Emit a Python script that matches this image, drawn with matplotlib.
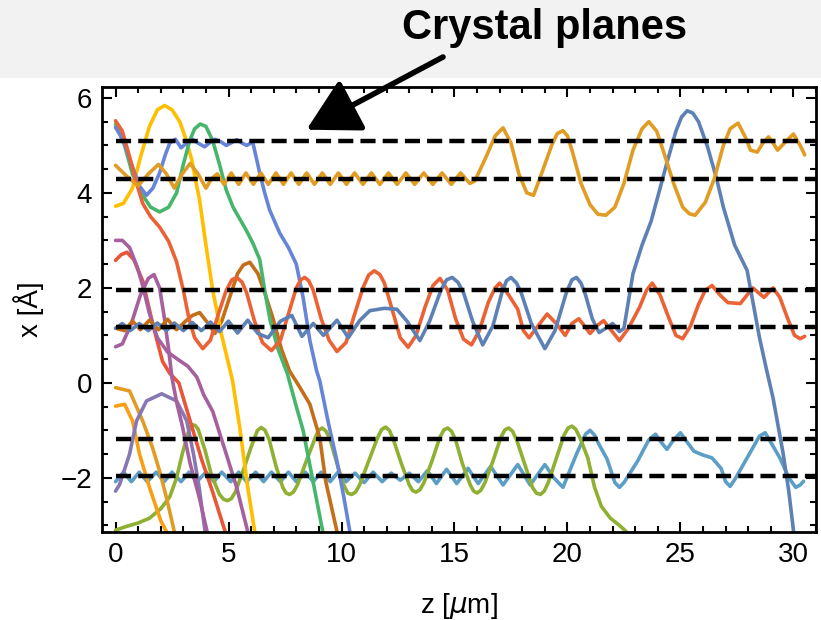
import matplotlib
matplotlib.use("Agg")
import matplotlib.pyplot as plt
from matplotlib.patches import Rectangle
from matplotlib.ticker import MultipleLocator

plt.rcParams['font.family'] = ['Liberation Sans', 'DejaVu Sans']

# crystal plane positions [Angstrom]
planes = [5.1, 4.3, 1.96, 1.18, -1.18, -1.97]

# trajectories as (z [um], x [Angstrom])
red_main = [(0.0, 5.52), (0.3, 5.3), (0.62, 4.76), (0.9, 4.25), (1.2, 3.78), (1.55, 3.5),
            (1.95, 3.28), (2.35, 2.98), (2.7, 2.55), (3.0, 1.95), (3.25, 1.35), (3.5, 0.95),
            (3.86, 0.72), (4.2, 0.9), (4.55, 1.45), (4.9, 1.95), (5.15, 2.17), (5.36, 2.22),
            (5.6, 2.12), (5.8, 1.9), (6.15, 1.3), (6.5, 0.85), (6.9, 0.68), (7.3, 0.9),
            (7.65, 1.45), (8.0, 2.0), (8.2, 2.17), (8.37, 2.22), (8.55, 2.15), (8.75, 1.95),
            (9.1, 1.35), (9.45, 0.9), (9.8, 0.66), (10.2, 0.85), (10.55, 1.4), (10.95, 2.0),
            (11.2, 2.27), (11.45, 2.36), (11.7, 2.28), (11.9, 2.1), (12.3, 1.45), (12.6, 0.95),
            (12.95, 0.75), (13.3, 1.0), (13.7, 1.6), (14.05, 2.05), (14.36, 2.2), (14.7, 1.95),
            (15.05, 1.35), (15.4, 0.92), (15.75, 0.8), (16.1, 1.1), (16.5, 1.7), (16.8, 2.0),
            (17.0, 2.1), (17.4, 1.85), (17.8, 1.55), (18.05, 1.1), (18.3, 0.95), (18.7, 1.2),
            (19.1, 1.45), (19.5, 1.25), (19.9, 1.0), (20.2, 1.25), (20.5, 1.35), (20.75, 1.2),
            (21.0, 1.04), (21.3, 1.2), (21.6, 1.31), (21.95, 1.1), (22.3, 0.89), (22.7, 1.15),
            (23.2, 1.6), (23.5, 1.95), (23.75, 2.1), (24.1, 1.85), (24.5, 1.35), (24.8, 1.0),
            (25.1, 0.93), (25.45, 1.2), (25.8, 1.65), (26.1, 1.95), (26.4, 2.05), (26.75, 1.85),
            (27.1, 1.69), (27.65, 1.67), (27.95, 1.85), (28.2, 2.0), (28.45, 1.9), (28.7, 1.8),
            (28.9, 1.9), (29.1, 2.0), (29.4, 1.8), (29.75, 1.35), (30.05, 1.0), (30.3, 0.93),
            (30.5, 0.98)]

blue_main = [(0.0, 1.15), (0.3, 1.25), (0.65, 1.1), (1.05, 1.25), (1.45, 1.1), (1.85, 1.26),
             (2.25, 1.1), (2.6, 1.26), (3.0, 1.1), (3.4, 1.27), (3.8, 1.1), (4.2, 1.28),
             (4.6, 1.08), (5.0, 1.3), (5.4, 1.05), (5.85, 1.32), (6.3, 1.04), (6.75, 0.95),
             (7.3, 1.3), (7.8, 1.42), (8.25, 0.98), (8.75, 1.25), (9.2, 1.0), (9.8, 1.32),
             (10.3, 0.95), (10.8, 1.31), (11.25, 1.52), (11.9, 1.57), (12.45, 1.55), (12.9, 1.3),
             (13.47, 0.89), (13.9, 1.3), (14.4, 1.95), (14.65, 2.17), (14.9, 2.22), (15.15, 2.12),
             (15.4, 1.9), (15.8, 1.3), (16.25, 0.8), (16.7, 1.2), (17.1, 1.9), (17.3, 2.15),
             (17.5, 2.22), (17.75, 2.1), (17.95, 1.9), (18.4, 1.25), (19.0, 0.72), (19.45, 1.1),
             (19.95, 1.9), (20.2, 2.17), (20.4, 2.22), (20.6, 2.1), (20.8, 1.85), (21.1, 1.35),
             (21.4, 1.06), (21.7, 1.15), (22.0, 1.25), (22.3, 1.08), (22.5, 1.15), (22.9, 2.3),
             (23.3, 2.9), (23.7, 3.4), (24.1, 4.1), (24.4, 4.63), (24.8, 5.3), (25.05, 5.6),
             (25.3, 5.73), (25.55, 5.68), (25.8, 5.5), (26.2, 4.97), (26.6, 4.3), (26.9, 3.7),
             (27.4, 2.9), (27.95, 2.37), (28.5, 0.95), (28.8, 0.3), (29.1, -0.32), (29.55, -1.5),
             (29.8, -2.3), (30.0, -3.1), (30.05, -3.3)]

orange_main = [(0.0, 4.58), (0.5, 4.35), (1.0, 4.15), (1.45, 4.4), (1.9, 4.6), (2.25, 4.4),
               (2.6, 4.1), (2.95, 4.4), (3.3, 4.62), (3.65, 4.4), (4.0, 4.1), (4.25, 4.3),
               (4.5, 4.4), (4.8, 4.18), (5.12, 4.42), (5.45, 4.18), (5.77, 4.42), (6.1, 4.18),
               (6.43, 4.42), (6.76, 4.18), (7.1, 4.42), (7.43, 4.18), (7.77, 4.42), (8.11, 4.18),
               (8.46, 4.42), (8.8, 4.18), (9.15, 4.42), (9.5, 4.18), (9.86, 4.42), (10.22, 4.18),
               (10.58, 4.42), (10.95, 4.18), (11.32, 4.42), (11.7, 4.18), (12.08, 4.42),
               (12.46, 4.18), (12.85, 4.42), (13.24, 4.18), (13.64, 4.42), (14.04, 4.18),
               (14.45, 4.42), (14.86, 4.18), (15.27, 4.42), (15.68, 4.2), (15.9, 4.25),
               (16.4, 4.76), (16.8, 5.2), (17.15, 5.37), (17.5, 5.05), (17.85, 4.4), (18.2, 4.0),
               (18.5, 3.95), (18.85, 4.4), (19.3, 5.0), (19.55, 5.25), (19.8, 5.31), (20.0, 5.2),
               (20.2, 4.9), (20.6, 4.2), (21.0, 3.75), (21.35, 3.55), (21.7, 3.53), (22.1, 3.7),
               (22.5, 4.2), (22.9, 4.9), (23.3, 5.35), (23.6, 5.5), (23.95, 5.3), (24.3, 4.8),
               (24.7, 4.2), (25.1, 3.7), (25.4, 3.56), (25.65, 3.53), (26.1, 3.8), (26.5, 4.3),
               (26.9, 5.0), (27.2, 5.35), (27.55, 5.47), (27.9, 5.15), (28.1, 4.9), (28.4, 4.86),
               (28.65, 5.05), (28.9, 5.18), (29.1, 5.05), (29.3, 4.9), (29.6, 5.05), (30.0, 5.24),
               (30.3, 5.0), (30.5, 4.8)]

blue_top = [(0.0, 5.38), (0.35, 5.1), (0.75, 4.55), (1.05, 4.15), (1.37, 3.95), (1.65, 4.1),
            (1.95, 4.42), (2.2, 4.8), (2.4, 5.05), (2.65, 5.13), (2.9, 4.95), (3.15, 5.05),
            (3.4, 5.13), (3.65, 5.05), (3.94, 4.97), (4.15, 5.05), (4.4, 5.13), (4.65, 5.08),
            (4.9, 5.0), (5.1, 5.05), (5.36, 5.12), (5.6, 5.05), (5.8, 5.0), (6.07, 5.07),
            (6.2, 4.8), (6.38, 4.42), (6.6, 4.0), (6.82, 3.64), (7.27, 3.15), (7.65, 2.85),
            (8.0, 2.5), (8.3, 1.8), (8.6, 0.89), (8.9, 0.25), (9.04, 0.04), (9.4, -0.8),
            (9.8, -1.65), (10.1, -2.4), (10.37, -3.13), (10.45, -3.3)]

green_top = [(0.0, 5.45), (0.4, 5.0), (0.75, 4.4), (1.2, 3.95), (1.55, 3.7), (1.95, 3.6),
             (2.35, 3.7), (2.7, 4.0), (3.0, 4.6), (3.28, 5.1), (3.5, 5.35), (3.75, 5.45),
             (4.0, 5.4), (4.3, 5.1), (4.6, 4.6), (4.9, 4.06), (5.2, 3.7), (5.5, 3.45),
             (5.8, 3.2), (6.07, 2.95), (6.38, 2.6), (6.6, 1.95), (6.85, 1.3), (7.2, 0.7),
             (7.6, 0.2), (8.0, -0.5), (8.3, -1.0), (8.73, -2.05), (9.17, -3.13), (9.25, -3.3)]

yellow = [(0.0, 3.72), (0.35, 3.78), (0.75, 4.1), (1.1, 4.75), (1.5, 5.4), (1.85, 5.75),
          (2.17, 5.84), (2.5, 5.75), (2.84, 5.5), (3.1, 5.15), (3.37, 4.7), (3.55, 4.25),
          (3.72, 3.85), (4.0, 2.9), (4.3, 1.95), (4.7, 1.0), (5.18, 0.04), (5.5, -0.95),
          (5.85, -2.2), (6.16, -3.13), (6.2, -3.3)]

brown = [(0.0, 1.15), (0.4, 1.1), (0.75, 1.3), (1.1, 1.12), (1.5, 1.32), (1.9, 1.12),
         (2.3, 1.34), (2.7, 1.12), (3.1, 1.3), (3.4, 1.42), (3.72, 1.48), (4.1, 1.25),
         (4.4, 1.04), (4.7, 1.3), (5.05, 1.8), (5.4, 2.3), (5.65, 2.48), (5.94, 2.54),
         (6.3, 2.3), (6.6, 1.9), (6.96, 1.37), (7.35, 0.7), (7.7, 0.25), (8.1, -0.05),
         (8.6, -0.45), (9.04, -1.16), (9.3, -2.07), (9.8, -3.13), (9.85, -3.3)]

magenta_a = [(0.0, 0.76), (0.3, 0.82), (0.7, 1.25), (1.1, 1.85), (1.45, 2.2), (1.7, 2.28),
             (1.95, 2.0), (2.15, 1.4), (2.35, 0.7), (2.5, 0.1), (2.7, -0.4), (2.95, -0.9),
             (3.3, -1.7), (3.7, -2.4), (4.05, -3.13), (4.1, -3.3)]

magenta_b = [(0.0, 3.0), (0.3, 3.0), (0.62, 2.85), (0.95, 2.45), (1.2, 2.05), (1.5, 1.46),
             (1.85, 0.95), (2.3, 0.65), (2.8, 0.48), (3.2, 0.35), (3.6, 0.12), (3.9, -0.25),
             (4.3, -0.6), (4.9, -1.5), (5.36, -2.2), (5.85, -3.13), (5.9, -3.3)]

red_c = [(0.0, 2.58), (0.25, 2.7), (0.5, 2.75), (0.8, 2.6), (1.2, 2.15), (1.64, 1.25),
         (2.08, 0.45), (2.4, 0.2), (2.8, 0.0), (3.3, -0.8), (3.8, -1.6), (4.3, -2.3),
         (4.85, -3.13), (4.9, -3.3)]

lavender = [(0.0, -2.28), (0.18, -2.14), (0.62, -1.5), (0.93, -0.8), (1.37, -0.38), (2.04, -0.23),
            (2.7, -0.38), (3.15, -0.8), (3.45, -1.5), (3.7, -2.2), (3.96, -3.13), (4.0, -3.3)]

orange_up = [(0.0, -0.1), (0.62, -0.17), (1.2, -0.8), (1.64, -1.37), (1.95, -1.86), (2.26, -2.43),
             (2.6, -3.13), (2.65, -3.3)]

orange_low = [(0.0, -0.49), (0.4, -0.45), (0.75, -0.8), (1.06, -1.5), (1.5, -2.2), (2.0, -2.9),
              (2.25, -3.13), (2.3, -3.3)]

yellowgreen = [(0.0, -3.1), (0.5, -3.02), (1.0, -2.95), (1.5, -2.85), (2.0, -2.65), (2.4, -2.4),
               (2.7, -2.0), (2.95, -1.5), (3.15, -1.15), (3.27, -0.96), (3.4, -0.88), (3.53, -0.9),
               (3.65, -0.97), (3.95, -1.4), (4.25, -1.95), (4.6, -2.35), (4.78, -2.45), (4.95, -2.48),
               (5.12, -2.44), (5.3, -2.3), (5.65, -1.85), (6.0, -1.35), (6.28, -1.0), (6.45, -0.94),
               (6.62, -1.0), (6.8, -1.2), (7.1, -1.75), (7.4, -2.2), (7.55, -2.32), (7.7, -2.35),
               (7.87, -2.3), (8.05, -2.15), (8.4, -1.7), (8.8, -1.2), (8.98, -1.0), (9.15, -0.95),
               (9.32, -1.02), (9.5, -1.2), (9.8, -1.7), (10.1, -2.15), (10.28, -2.32), (10.45, -2.35),
               (10.62, -2.3), (10.8, -2.15), (11.2, -1.65), (11.6, -1.15), (11.78, -0.98),
               (11.95, -0.93), (12.12, -1.0), (12.3, -1.2), (12.65, -1.7), (13.0, -2.15),
               (13.15, -2.27), (13.3, -2.3), (13.47, -2.25), (13.65, -2.1), (14.0, -1.65),
               (14.35, -1.15), (14.53, -0.99), (14.7, -0.95), (14.87, -1.02), (15.05, -1.2),
               (15.35, -1.7), (15.7, -2.15), (15.85, -2.28), (16.0, -2.32), (16.17, -2.26),
               (16.35, -2.1), (16.7, -1.65), (17.05, -1.15), (17.23, -0.99), (17.4, -0.95),
               (17.57, -1.02), (17.75, -1.2), (18.1, -1.7), (18.45, -2.2), (18.62, -2.32),
               (18.8, -2.35), (18.97, -2.28), (19.15, -2.1), (19.5, -1.6), (19.85, -1.1),
               (20.03, -0.95), (20.2, -0.91), (20.37, -0.98), (20.55, -1.15), (20.9, -1.58),
               (21.2, -2.2), (21.5, -2.6), (21.9, -2.85), (22.3, -3.0), (22.6, -3.13), (22.8, -3.3)]

lightblue = [(0.0, -2.08), (0.35, -1.88), (0.7, -2.08), (1.05, -1.88), (1.4, -2.08), (1.8, -1.88),
             (2.15, -2.08), (2.5, -1.88), (2.9, -2.08), (3.25, -1.88), (3.6, -2.08), (4.0, -1.88),
             (4.35, -2.08), (4.7, -1.88), (5.1, -2.08), (5.45, -1.88), (5.8, -2.08), (6.2, -1.88),
             (6.55, -2.08), (6.9, -1.88), (7.3, -2.08), (7.65, -1.88), (8.0, -2.08), (8.4, -1.88),
             (8.75, -2.08), (9.1, -1.88), (9.5, -2.08), (9.85, -1.88), (10.2, -2.08), (10.6, -1.9),
             (11.0, -2.1), (11.4, -1.88), (11.8, -2.08), (12.2, -1.9), (12.6, -2.05), (13.0, -1.9),
             (13.4, -2.08), (13.8, -1.85), (14.2, -2.12), (14.65, -1.82), (15.1, -2.12),
             (15.6, -1.8), (16.05, -2.12), (16.6, -1.76), (17.15, -2.15), (17.8, -1.72),
             (18.35, -2.15), (19.0, -1.72), (19.4, -2.0), (19.8, -2.2), (20.4, -1.5), (20.8, -1.08),
             (21.0, -1.0), (21.2, -1.1), (21.4, -1.3), (21.75, -1.6), (22.1, -2.1), (22.3, -2.2),
             (22.5, -2.1), (22.7, -1.95), (23.1, -1.65), (23.6, -1.2), (23.9, -1.08), (24.15, -1.25),
             (24.4, -1.4), (24.7, -1.2), (25.0, -1.05), (25.3, -1.25), (25.6, -1.44), (26.0, -1.52),
             (26.4, -1.58), (26.8, -1.8), (27.0, -2.08), (27.2, -2.18), (27.45, -2.0), (27.95, -1.58),
             (28.5, -1.12), (28.75, -1.05), (29.0, -1.25), (29.4, -1.58), (29.8, -2.0), (30.1, -2.2),
             (30.3, -2.15), (30.45, -2.07)]

trajectories = [
    (lightblue, '#5D9EC7'),
    (yellowgreen, '#8FB032'),
    (orange_low, '#F89F13'),
    (orange_up, '#E19C24'),
    (lavender, '#8778B3'),
    (red_c, '#E95536'),
    (magenta_a, '#A5609D'),
    (magenta_b, '#A5609D'),
    (brown, '#C56E1A'),
    (yellow, '#FFBF00'),
    (green_top, '#47B66D'),
    (blue_top, '#6685D9'),
    (red_main, '#EB6235'),
    (blue_main, '#5E81B5'),
    (orange_main, '#E19C24'),
]

fig = plt.figure(figsize=(8.21, 6.2), dpi=100)
fig.patches.append(Rectangle((0, 1 - 78 / 620), 1, 78 / 620, transform=fig.transFigure,
                             facecolor='#f2f2f2', edgecolor='none', zorder=-10))
ax = fig.add_axes([102 / 821, 1 - 532 / 620, 714 / 821, 445 / 620])

for pts, col in trajectories:
    z = [p[0] for p in pts]
    x = [p[1] for p in pts]
    ax.plot(z, x, color=col, lw=2.6, solid_joinstyle='round', solid_capstyle='round')

for p in planes:
    ax.plot([0, 31.0], [p, p], color='black', lw=3.2, linestyle=(0, (3.4, 1.6)), zorder=5)

ax.set_xlim(-0.6, 31.0)
ax.set_ylim(-3.14, 6.23)
ax.xaxis.set_major_locator(MultipleLocator(5))
ax.xaxis.set_minor_locator(MultipleLocator(1))
ax.yaxis.set_major_locator(MultipleLocator(2))
ax.yaxis.set_minor_locator(MultipleLocator(0.5))
ax.tick_params(which='both', direction='in', top=True, right=True, width=1.5, labelsize=20)
ax.tick_params(which='major', length=7, pad=7)
ax.tick_params(which='minor', length=4)
for s in ax.spines.values():
    s.set_linewidth(2)

ax.set_xlabel(r'z [$\mu$m]', fontsize=20, labelpad=17)
ax.set_ylabel('x [Å]', fontsize=20, labelpad=12)

fig.text(545 / 821, 1 - 28 / 620, 'Crystal planes', fontsize=30, fontweight='bold',
         ha='center', va='center')
ax.annotate('', xy=(8.45, 5.33), xycoords='data',
            xytext=(443 / 821, 1 - 57 / 620), textcoords='figure fraction',
            arrowprops=dict(arrowstyle='-|>,head_length=1.0,head_width=0.55', lw=4,
                            mutation_scale=32, color='black', shrinkA=0, shrinkB=0),
            annotation_clip=False)

fig.savefig('out.png', dpi=100)
